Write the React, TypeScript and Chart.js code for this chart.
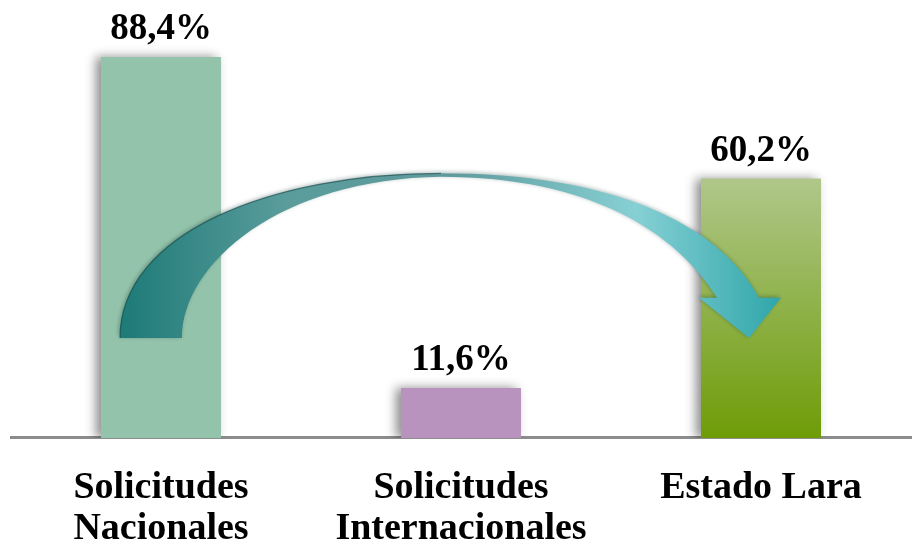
import React, { useEffect, useRef } from "react";
import { Chart, registerables } from "chart.js";

Chart.register(...registerables);

const categories: string[][] = [
  ["Solicitudes", "Nacionales"],
  ["Solicitudes", "Internacionales"],
  ["Estado Lara"],
];
const values: number[] = [88.4, 11.6, 60.2];
const valueLabels: string[] = ["88,4%", "11,6%", "60,2%"];
const yMax = 100;

const SERIF = "'Liberation Serif', 'DejaVu Serif', serif";

const labelPlugin = {
  id: "valueLabels",
  afterDatasetsDraw(chart: any) {
    const { ctx } = chart;
    const meta = chart.getDatasetMeta(0);
    ctx.save();
    ctx.font = `bold 37px ${SERIF}`;
    ctx.fillStyle = "#000";
    ctx.textAlign = "center";
    ctx.textBaseline = "alphabetic";
    meta.data.forEach((bar: any, i: number) => {
      ctx.fillText(valueLabels[i], bar.x, bar.y - 18);
    });
    ctx.restore();
  },
};

const shadowPlugin = {
  id: "barShadow",
  beforeDatasetsDraw(chart: any) {
    const { ctx } = chart;
    ctx.save();
    ctx.shadowColor = "rgba(0,0,0,0.45)";
    ctx.shadowBlur = 10;
    ctx.shadowOffsetX = -5;
    ctx.shadowOffsetY = 0;
  },
  afterDatasetsDraw(chart: any) {
    chart.ctx.restore();
  },
};

const arrowPlugin = {
  id: "curvedArrow",
  afterDatasetsDraw(chart: any) {
    const { ctx } = chart;
    const xs = chart.scales.x;
    const ys = chart.scales.y;
    const x0 = xs.getPixelForValue(0);
    const x2 = xs.getPixelForValue(2);
    const py = (v: number) => ys.getPixelForValue(v);
    const base = py(23.2);
    const top = py(61.4);
    const innerTop = py(60.6);
    const wing = py(32.5);
    const midX = (x0 + x2) / 2 - 20;

    const tailL = x0 - 41;
    const tailR = x0 + 21;
    const tipX = x2 - 12;
    const wingL = x2 - 62;
    const wingR = x2 + 20;
    const shaftL = x2 - 44;
    const shaftR = x2 - 2;

    ctx.save();
    ctx.beginPath();
    ctx.moveTo(tailL, base);
    ctx.bezierCurveTo(tailL, top + 60, midX - 170, top, midX, top);
    ctx.bezierCurveTo(midX + 170, top, shaftR - 40, top + 50, shaftR, wing);
    ctx.lineTo(wingR, wing);
    ctx.lineTo(tipX, base);
    ctx.lineTo(wingL, wing);
    ctx.lineTo(shaftL, wing);
    ctx.bezierCurveTo(shaftL - 40, top + 60, midX + 150, innerTop, midX, innerTop);
    ctx.bezierCurveTo(midX - 160, innerTop + 2, tailR, top + 90, tailR, base);
    ctx.closePath();
    const g = ctx.createLinearGradient(tailL, base, wingR, base);
    g.addColorStop(0, "#1d7a77");
    g.addColorStop(0.25, "#5a9c9c");
    g.addColorStop(0.5, "#5f9a9c");
    g.addColorStop(0.78, "#86d0d4");
    g.addColorStop(1, "#2fa6aa");
    ctx.shadowColor = "rgba(0,40,40,0.35)";
    ctx.shadowBlur = 4;
    ctx.shadowOffsetX = -1;
    ctx.shadowOffsetY = -1;
    ctx.fillStyle = g;
    ctx.fill();
    ctx.shadowColor = "transparent";
    ctx.lineWidth = 1.2;
    ctx.strokeStyle = "rgba(20,70,70,0.6)";
    ctx.beginPath();
    ctx.moveTo(tailL, base);
    ctx.bezierCurveTo(tailL, top + 60, midX - 170, top, midX, top);
    ctx.stroke();
    ctx.restore();
  },
};

export default function App() {
  const ref = useRef<HTMLCanvasElement | null>(null);
  useEffect(() => {
    if (!ref.current) return;
    const chart = new Chart(ref.current, {
      type: "bar",
      data: {
        labels: categories,
        datasets: [
          {
            data: values,
            backgroundColor: (c: any) => {
              const i = c.dataIndex;
              if (i === 0) return "#93c3aa";
              if (i === 1) return "#b893bd";
              const area = c.chart.chartArea;
              if (!area) return "#8fb24a";
              const yTop = c.chart.scales.y.getPixelForValue(values[2]);
              const g = c.chart.ctx.createLinearGradient(0, yTop, 0, area.bottom);
              g.addColorStop(0, "#b0c78a");
              g.addColorStop(1, "#6e9c08");
              return g;
            },
            borderWidth: 0,
            barPercentage: 0.8,
            categoryPercentage: 0.5,
          },
        ],
      },
      options: {
        animation: false,
        responsive: false,
        maintainAspectRatio: false,
        layout: { padding: { left: 11, right: 7, top: 7, bottom: 0 } },
        plugins: {
          legend: { display: false },
          tooltip: { enabled: false },
        },
        scales: {
          x: {
            grid: { display: false, drawTicks: false },
            border: { display: true, color: "#8c8c8c", width: 3 },
            ticks: {
              color: "#000",
              padding: 30,
              font: { family: SERIF, size: 38, weight: "bold", lineHeight: 1.08 },
              maxRotation: 0,
              autoSkip: false,
            },
          },
          y: {
            display: false,
            min: 0,
            max: yMax,
          },
        },
      },
      plugins: [shadowPlugin, labelPlugin, arrowPlugin],
    });
    return () => chart.destroy();
  }, []);
  return (
    <div style={{ position: "fixed", left: 0, top: 0, width: 918, height: 546, overflow: "hidden", background: "#fff" }}>
      <canvas ref={ref} width={918} height={580} style={{ width: 918, height: 580, display: "block" }} />
    </div>
  );
}
